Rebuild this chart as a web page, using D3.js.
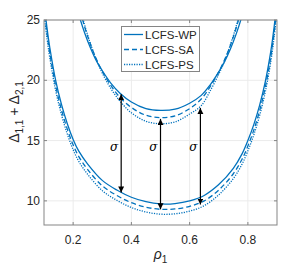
<!DOCTYPE html>
<html lang="en">
  <head>
    <meta charset="utf-8" />
    <script src="https://d3js.org/d3.v7.min.js"></script>
    <style>
      body { margin: 0; background: #fff; }
      text { font-family: "Liberation Sans", Arial, sans-serif; fill: #262626; }
    </style>
  </head>
  <body>
    <div id="chart"></div>
    <script>
      // lower family (one curve per LCFS variant)
      let rhoLow = [0.10, 0.11, 0.12, 0.14, 0.16, 0.18, 0.20, 0.22, 0.25, 0.30, 0.35, 0.40, 0.45, 0.50,
                    0.55, 0.60, 0.65, 0.70, 0.75, 0.78, 0.80, 0.82, 0.84, 0.86, 0.88, 0.89, 0.90];
      let lowWP = [26.4, 24.4, 22.7, 20.0, 18.0, 16.4, 15.1, 14.1, 13.05, 11.7, 10.9, 10.3, 9.93, 9.75,
                   9.78, 10.0, 10.45, 11.35, 12.7, 13.9, 15.0, 16.3, 17.9, 19.9, 22.6, 24.4, 26.5];
      let lowSA = [25.95, 23.95, 22.25, 19.55, 17.55, 15.95, 14.65, 13.65, 12.6, 11.25, 10.45, 9.85, 9.48, 9.3,
                   9.33, 9.55, 10.0, 10.9, 12.25, 13.45, 14.55, 15.85, 17.45, 19.45, 22.15, 23.95, 26.05];
      let lowPS = [25.55, 23.55, 21.85, 19.15, 17.15, 15.55, 14.25, 13.25, 12.2, 10.85, 10.05, 9.45, 9.08, 8.9,
                   8.93, 9.15, 9.6, 10.5, 11.85, 13.05, 14.15, 15.45, 17.05, 19.05, 21.75, 23.55, 25.65];

      // upper family
      let rhoUp = [0.20, 0.22, 0.24, 0.26, 0.28, 0.30, 0.33, 0.36, 0.40, 0.45, 0.50,
                   0.55, 0.60, 0.64, 0.67, 0.70, 0.72, 0.74, 0.76, 0.78, 0.80];
      let upWP = [27.2, 25.4, 23.9, 22.65, 21.6, 20.8, 19.75, 18.95, 18.2, 17.65, 17.5,
                  17.6, 18.1, 18.75, 19.6, 20.7, 21.55, 22.6, 23.85, 25.35, 27.2];
      let upSA = [28.3, 26.15, 24.4, 22.95, 21.75, 20.75, 19.55, 18.6, 17.75, 17.1, 16.9,
                  17.05, 17.65, 18.45, 19.45, 20.7, 21.7, 22.9, 24.35, 26.1, 28.3];
      let upPS = [28.8, 26.45, 24.55, 23.0, 21.7, 20.6, 19.3, 18.3, 17.3, 16.6, 16.4,
                  16.55, 17.2, 17.9, 19.1, 20.5, 21.6, 22.95, 24.5, 26.4, 28.8];

      let seriesNames = ["LCFS-WP", "LCFS-SA", "LCFS-PS"];
      let dashes = [null, "5,3", "1.2,1.3"];

      // sigma arrows
      let arrowRho = [0.365, 0.5, 0.637];
      let arrowTop = [18.85, 16.8, 17.7];
      let arrowBottom = [10.7, 9.3, 9.7];
      let sigmaAt = 14.45;

      let xTicks = [0.2, 0.4, 0.6, 0.8];
      let yTicks = [10, 15, 20, 25];

      let w = 307;
      let h = 271;
      let margin = { left: 44, right: 30, top: 20, bottom: 46 };
      let blue = "#0072BD";

      let svg = d3.select("#chart").append("svg").attr("width", w).attr("height", h);

      let x = d3.scaleLinear().domain([0.1, 0.9]).range([margin.left, w - margin.right]);
      let y = d3.scaleLinear().domain([8, 25]).range([h - margin.bottom, margin.top]);

      svg.append("clipPath").attr("id", "clip")
        .append("rect")
        .attr("x", x(0.1)).attr("y", y(25))
        .attr("width", x(0.9) - x(0.1)).attr("height", y(8) - y(25));

      // grid
      svg.append("g").selectAll("line").data(xTicks).join("line")
        .attr("x1", d => x(d)).attr("x2", d => x(d))
        .attr("y1", y(8)).attr("y2", y(25))
        .attr("stroke", "#ebebeb");
      svg.append("g").selectAll("line").data(yTicks).join("line")
        .attr("x1", x(0.1)).attr("x2", x(0.9))
        .attr("y1", d => y(d)).attr("y2", d => y(d))
        .attr("stroke", "#ebebeb");

      let line = d3.line().x(d => x(d[0])).y(d => y(d[1])).curve(d3.curveCatmullRom);

      let curves = svg.append("g").attr("clip-path", "url(#clip)");
      [lowWP, lowSA, lowPS].forEach(function (vals, i) {
        curves.append("path")
          .attr("d", line(d3.zip(rhoLow, vals)))
          .attr("fill", "none").attr("stroke", blue).attr("stroke-width", 1.3)
          .attr("stroke-dasharray", dashes[i]);
      });
      [upWP, upSA, upPS].forEach(function (vals, i) {
        curves.append("path")
          .attr("d", line(d3.zip(rhoUp, vals)))
          .attr("fill", "none").attr("stroke", blue).attr("stroke-width", 1.3)
          .attr("stroke-dasharray", dashes[i]);
      });

      // arrows
      svg.append("defs").append("marker")
        .attr("id", "head")
        .attr("markerUnits", "userSpaceOnUse")
        .attr("markerWidth", 10).attr("markerHeight", 10)
        .attr("refX", 6).attr("refY", 3)
        .attr("orient", "auto-start-reverse")
        .append("path").attr("d", "M0,0 L6,3 L0,6 Z").attr("fill", "#000");

      let arrows = svg.append("g");
      arrowRho.forEach(function (r, i) {
        arrows.append("line")
          .attr("x1", x(r)).attr("x2", x(r))
          .attr("y1", y(arrowBottom[i])).attr("y2", y(arrowTop[i]))
          .attr("stroke", "#000").attr("stroke-width", 1.2)
          .attr("marker-start", "url(#head)").attr("marker-end", "url(#head)");
        arrows.append("text")
          .attr("x", x(r) - 3).attr("y", y(sigmaAt) + 4)
          .attr("text-anchor", "end")
          .style("font-family", "'DejaVu Serif', 'Liberation Serif', serif")
          .style("font-style", "italic").style("font-size", "12px")
          .style("fill", "#000")
          .text("σ");
      });

      // box with inside ticks
      let frame = svg.append("g");
      frame.append("rect")
        .attr("x", x(0.1)).attr("y", y(25))
        .attr("width", x(0.9) - x(0.1)).attr("height", y(8) - y(25))
        .attr("fill", "none").attr("stroke", "#858585");
      xTicks.forEach(function (t) {
        frame.append("line").attr("x1", x(t)).attr("x2", x(t)).attr("y1", y(8)).attr("y2", y(8) - 3).attr("stroke", "#858585");
        frame.append("line").attr("x1", x(t)).attr("x2", x(t)).attr("y1", y(25)).attr("y2", y(25) + 3).attr("stroke", "#858585");
        frame.append("text").attr("x", x(t)).attr("y", y(8) + 19)
          .attr("text-anchor", "middle").style("font-size", "12px").text(t);
      });
      yTicks.forEach(function (t) {
        frame.append("line").attr("x1", x(0.1)).attr("x2", x(0.1) + 3).attr("y1", y(t)).attr("y2", y(t)).attr("stroke", "#858585");
        frame.append("line").attr("x1", x(0.9)).attr("x2", x(0.9) - 3).attr("y1", y(t)).attr("y2", y(t)).attr("stroke", "#858585");
        frame.append("text").attr("x", x(0.1) - 4).attr("y", y(t) + 4)
          .attr("text-anchor", "end").style("font-size", "12px").text(t);
      });

      // axis labels
      let xl = svg.append("text")
        .attr("x", x(0.5)).attr("y", 259)
        .attr("text-anchor", "middle").style("font-size", "14px");
      xl.append("tspan").style("font-style", "italic").text("ρ");
      xl.append("tspan").attr("dy", 4).style("font-size", "10px").text("1");

      let yl = svg.append("text")
        .attr("transform", "translate(19," + 112 + ") rotate(-90)")
        .attr("text-anchor", "middle").style("font-size", "14px");
      yl.append("tspan").text("Δ");
      yl.append("tspan").attr("dy", 4).style("font-size", "10px").text("1,1");
      yl.append("tspan").attr("dy", -4).text(" + Δ");
      yl.append("tspan").attr("dy", 4).style("font-size", "10px").text("2,1");

      // legend
      let lg = svg.append("g");
      lg.append("rect")
        .attr("x", 121.5).attr("y", 26.5).attr("width", 78).attr("height", 45)
        .attr("fill", "#fff").attr("stroke", "#858585");
      seriesNames.forEach(function (name, i) {
        let ly = 34.5 + i * 15;
        lg.append("line")
          .attr("x1", 124).attr("x2", 143).attr("y1", ly).attr("y2", ly)
          .attr("stroke", blue).attr("stroke-width", 1.3)
          .attr("stroke-dasharray", dashes[i]);
        lg.append("text").attr("x", 145).attr("y", ly + 4)
          .style("font-size", "11.5px").text(name);
      });
    </script>
  </body>
</html>
